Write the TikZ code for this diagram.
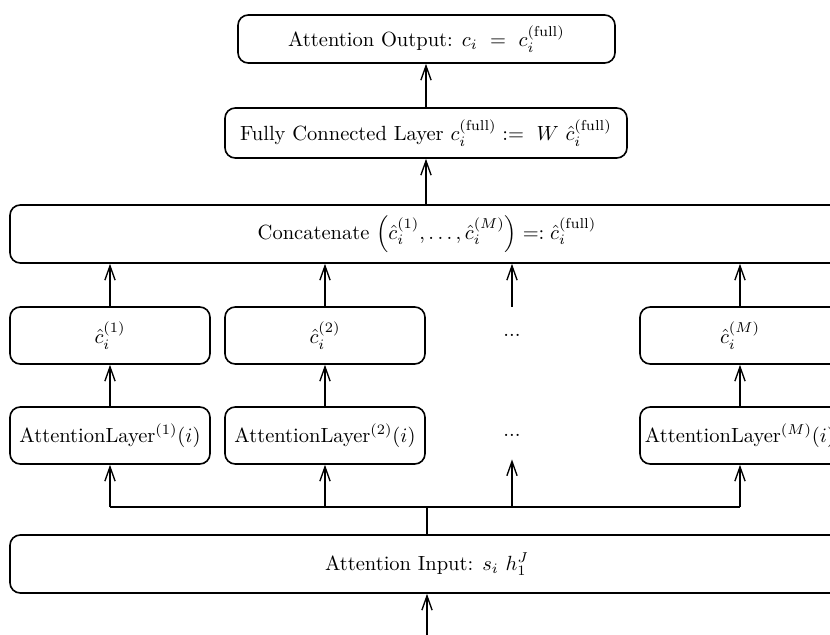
\documentclass[tikz,border=0pt]{standalone}
\usepackage{amsmath}
\usetikzlibrary{arrows.meta}
\newdimen\pxu
\pxu=0.4875pt
\begin{document}
\begin{tikzpicture}[x=\pxu,y=-\pxu,
  box/.style={draw,rounded corners=5pt,line width=0.8pt,align=center,inner sep=2pt},
  wide/.style={box,minimum width=834\pxu,minimum height=58\pxu},
  unit/.style={box,minimum width=200\pxu,minimum height=57\pxu},
  wire/.style={line width=0.65pt},
  link/.style={wire,-{Straight Barb[length=7pt,width=5pt,line width=0.65pt]}}]
\useasboundingbox (0,0) rectangle (830,635);

% output and fully connected layer
\node[box,minimum width=377\pxu,minimum height=48\pxu] (out) at (426.5,39)
  {Attention Output: $c_i\ =\ c_i^{(\mathrm{full})}$};
\node[box,minimum width=402\pxu,minimum height=50\pxu] (fc) at (426,133)
  {Fully Connected Layer $c_i^{(\mathrm{full})} :=\ W\ \hat{c}_i^{(\mathrm{full})}$};

% concatenation
\node[wide] (cat) at (427,234)
  {Concatenate $\left(\hat{c}_i^{(1)},\ldots,\hat{c}_i^{(M)}\right) =: \hat{c}_i^{(\mathrm{full})}$};

% per-head results
\node[unit] (h1) at (110,335.5) {$\hat{c}_i^{(1)}$};
\node[unit] (h2) at (325,335.5) {$\hat{c}_i^{(2)}$};
\node[minimum height=57\pxu,inner sep=0pt] (hd) at (512,335.5) {...};
\node[unit] (hM) at (740,335.5) {$\hat{c}_i^{(M)}$};

% attention heads
\node[unit] (l1) at (110,435.5) {AttentionLayer$^{(1)}(i)$};
\node[unit] (l2) at (325,435.5) {AttentionLayer$^{(2)}(i)$};
\node[minimum height=47\pxu,inner sep=0pt] (ld) at (512,435.5) {...};
\node[unit] (lM) at (740,435.5) {AttentionLayer$^{(M)}(i)$};

% input
\node[wide] (in) at (427,564) {Attention Input: $s_i\ h_1^J$};
\coordinate (j) at (427,507);
\coordinate (src) at (427,635);

% connectors
\draw[link] (src) -- (in.south);
\draw[wire] (in.north) -- (j);
\draw[wire] (j -| l1.south) -- (j -| lM.south);
\foreach \n in {l1,l2,ld,lM} \draw[link] (j -| \n.south) -- (\n.south);
\draw[link] (l1.north) -- (h1.south);
\draw[link] (l2.north) -- (h2.south);
\draw[link] (lM.north) -- (hM.south);
\foreach \n in {h1,h2,hd,hM} \draw[link] (\n.north) -- (\n.north |- cat.south);
\draw[link] (cat.north -| fc.south) -- (fc.south);
\draw[link] (fc.north) -- (fc.north |- out.south);
\end{tikzpicture}
\end{document}
